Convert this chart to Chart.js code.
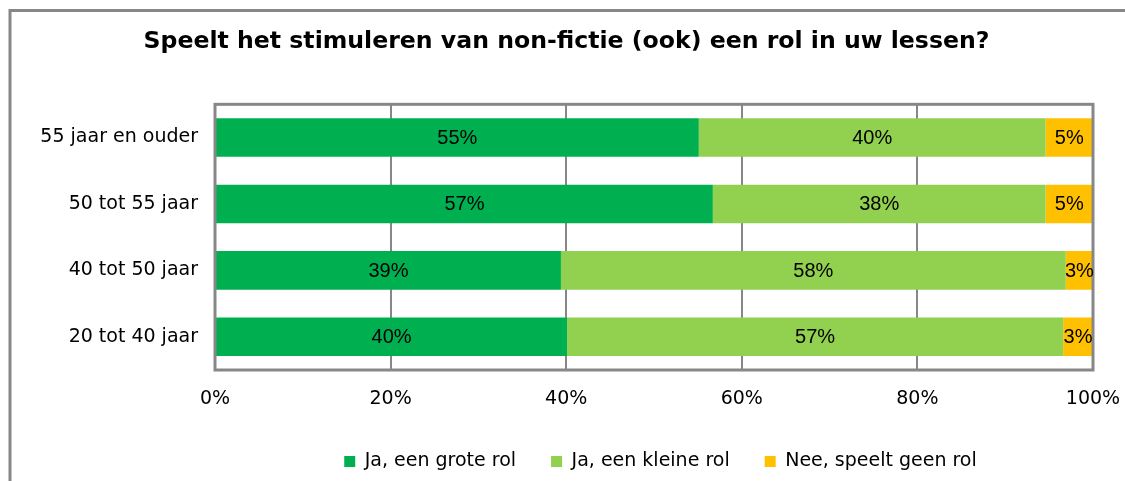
<!DOCTYPE html>
<html>
<head>
<meta charset="utf-8">
<script src="https://cdn.jsdelivr.net/npm/chart.js@4/dist/chart.umd.min.js"></script>
<style>
	html, body { margin: 0; padding: 0; background: #fff; }
	#wrap { position: relative; width: 1125px; height: 481px; }
</style>
</head>
<body>
<div id="wrap"><canvas id="chart" width="1125" height="481"></canvas></div>
<script>
const categories = ['55 jaar en ouder', '50 tot 55 jaar', '40 tot 50 jaar', '20 tot 40 jaar'];
const seriesNames = ['Ja, een grote rol', 'Ja, een kleine rol', 'Nee, speelt geen rol'];
const grootValues = [55.1, 56.7, 39.4, 40.1];
const kleinValues = [39.5, 37.9, 57.5, 56.5];
const geenValues = [5.4, 5.4, 3.1, 3.4];
const seriesColors = ['#00B050', '#92D050', '#FFC000'];
const xTicks = [0, 20, 40, 60, 80, 100];

const GRAY = '#878787';
const FONT = '"DejaVu Sans", Verdana, sans-serif';

// rand om de hele grafiek + kader om het plotgebied
const kaderPlugin = {
	id: 'kader',
	afterLayout(chart) {
		// legenda staat in het origineel rechts van het midden
		chart.legend.left += 94;
		chart.legend.right += 94;
	},
	beforeDraw(chart) {
		const ctx = chart.ctx;
		ctx.save();
		ctx.strokeStyle = GRAY;
		ctx.lineWidth = 3;
		ctx.strokeRect(10, 10.5, 1200, 600);
		ctx.restore();
	},
	afterDatasetsDraw(chart) {
		const { ctx, chartArea } = chart;
		ctx.save();
		ctx.strokeStyle = GRAY;
		ctx.lineWidth = 3;
		ctx.strokeRect(chartArea.left, chartArea.top, chartArea.right - chartArea.left, chartArea.bottom - chartArea.top);
		ctx.restore();
	}
};

// percentages midden in elk segment
const labelPlugin = {
	id: 'segmentLabels',
	afterDraw(chart) {
		const ctx = chart.ctx;
		ctx.save();
		ctx.font = '20px "Liberation Sans", Arial, sans-serif';
		ctx.fillStyle = '#000';
		ctx.textAlign = 'center';
		ctx.textBaseline = 'middle';
		chart.data.datasets.forEach((ds, i) => {
			const meta = chart.getDatasetMeta(i);
			meta.data.forEach((bar, j) => {
				const v = ds.data[j];
				const x = (bar.x + bar.base) / 2;
				ctx.fillText(`${Math.round(v)}%`, x, bar.y + 1);
			});
		});
		ctx.restore();
	}
};

const dataValues = [grootValues, kleinValues, geenValues];

const ctx = document.getElementById('chart').getContext('2d');
new Chart(ctx, {
	type: 'bar',
	data: {
		labels: categories,
		datasets: seriesNames.map((name, i) => ({
			label: name,
			data: dataValues[i],
			backgroundColor: seriesColors[i],
			borderWidth: 0,
			barPercentage: 0.58,
			categoryPercentage: 1
		}))
	},
	options: {
		indexAxis: 'y',
		responsive: false,
		animation: false,
		layout: { padding: { left: 40, right: 32, top: 0, bottom: 0 } },
		scales: {
			x: {
				stacked: true,
				min: 0,
				max: 100,
				afterBuildTicks(scale) {
					scale.ticks = xTicks.map((v) => ({ value: v }));
				},
				afterFit(scale) {
					scale.height = 47;
					scale.paddingLeft = 0;
					scale.paddingRight = 0;
				},
				ticks: {
					callback: (v) => `${v}%`,
					color: '#000',
					padding: 18,
					maxRotation: 0,
					font: { family: FONT, size: 19 }
				},
				grid: { color: GRAY, lineWidth: 2, drawTicks: false },
				border: { display: false }
			},
			y: {
				stacked: true,
				afterFit(scale) {
					scale.width = 175;
					scale.paddingLeft = 0;
				},
				ticks: {
					color: '#000',
					padding: 17,
					font: { family: FONT, size: 19 }
				},
				grid: { display: false, drawTicks: false },
				border: { display: false }
			}
		},
		plugins: {
			title: {
				display: true,
				text: 'Speelt het stimuleren van non-fictie (ook) een rol in uw lessen?',
				color: '#000',
				font: { family: FONT, size: 23.6, weight: 'bold' },
				padding: { top: 28, bottom: 48 }
			},
			legend: {
				position: 'bottom',
				labels: {
					color: '#000',
					boxWidth: 11,
					boxHeight: 11,
					padding: 35,
					font: { family: FONT, size: 19 }
				}
			},
			tooltip: { enabled: false }
		}
	},
	plugins: [kaderPlugin, labelPlugin]
});
</script>
</body>
</html>
